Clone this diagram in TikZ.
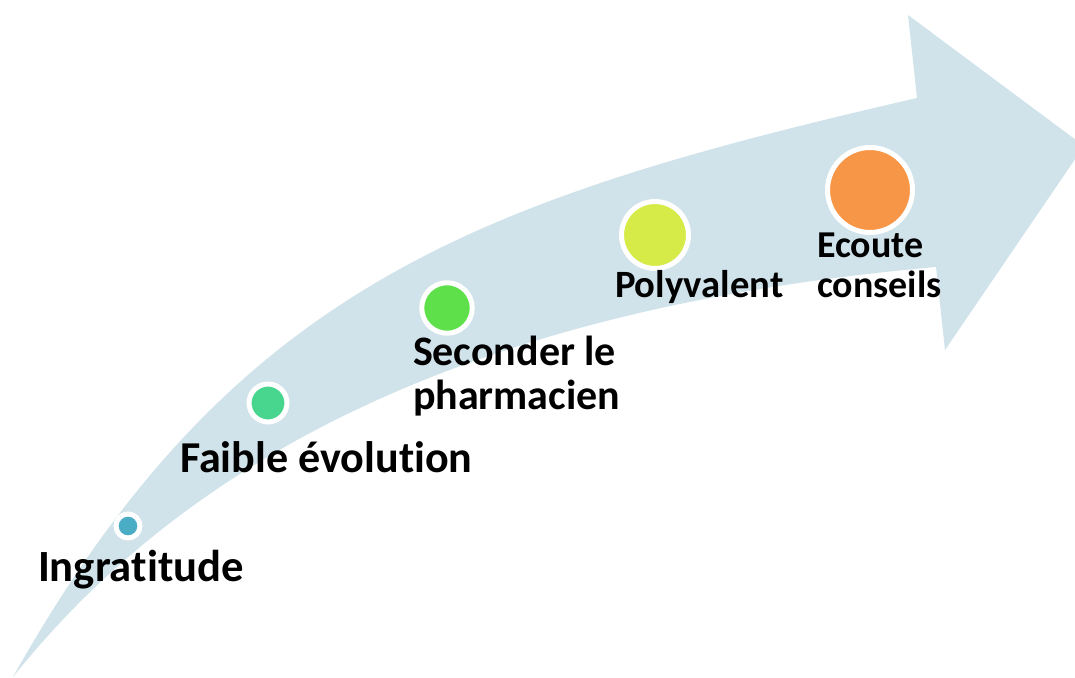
\documentclass[tikz,border=0pt]{standalone}
\usepackage{fontspec}
\setmainfont{Carlito}[Ligatures={NoCommon,NoRare,NoContextual}]
\definecolor{arrowblue}{RGB}{208,226,234}
\definecolor{dotA}{RGB}{75,172,198}
\definecolor{dotB}{RGB}{72,214,143}
\definecolor{dotC}{RGB}{94,224,74}
\definecolor{dotD}{RGB}{214,235,72}
\definecolor{dotE}{RGB}{247,150,70}
\tikzset{
  dot/.style={circle, draw=white, line width=0.1cm, inner sep=0pt},
  lbl/.style={inner sep=0pt, outer sep=0pt, text=black, anchor=base west}
}
\begin{document}
\begin{tikzpicture}[x=0.02cm,y=-0.02cm]
\useasboundingbox (0,0) rectangle (1075,678);
\clip (0,0) rectangle (1075,678);
\fill[arrowblue]
  (13,677) .. controls (233,285) and (479,199) .. (917,98)
  -- (908,15) -- (1084,146) -- (945,350) -- (936,267)
  .. controls (540,302) and (218,420) .. (13,677)
  -- cycle;
\node[dot, fill=dotA, minimum size=0.48cm] (d1) at (128,526) {};
\node[dot, fill=dotB, minimum size=0.76cm] (d2) at (268,403) {};
\node[dot, fill=dotC, minimum size=1.01cm] (d3) at (447,308) {};
\node[dot, fill=dotD, minimum size=1.34cm] (d4) at (655,235) {};
\node[dot, fill=dotE, minimum size=1.70cm] (d5) at (870,190) {};
\node[lbl, font=\bfseries\fontsize{25.4}{28}\selectfont] (t1) at (38,582) {Ingratitude};
\node[lbl, font=\bfseries\fontsize{25.1}{28}\selectfont] (t2) at (180,473) {Faible évolution};
\node[lbl, font=\bfseries\fontsize{23.9}{25.6}\selectfont, align=left] (t3) at (413,410) {Seconder le\\pharmacien};
\node[lbl, font=\bfseries\fontsize{22}{24}\selectfont] (t4) at (615,298) {Polyvalent};
\node[lbl, font=\bfseries\fontsize{21.6}{22.8}\selectfont, align=left] (t5) at (817,298) {Ecoute\\conseils};
\end{tikzpicture}
\end{document}
